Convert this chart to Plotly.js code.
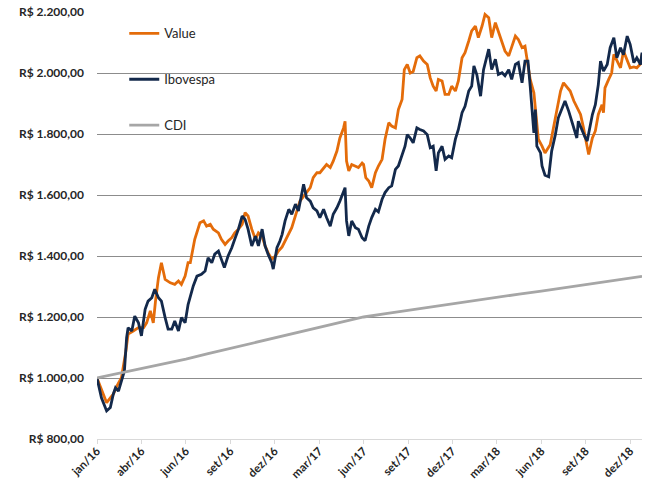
<!DOCTYPE html>
<html>
<head>
<meta charset="utf-8">
<script src="https://cdn.plot.ly/plotly-3.0.1.min.js"></script>
<style>html,body{margin:0;padding:0;background:#fff;}#chart{width:651px;height:482px;}</style>
</head>
<body>
<div id="chart"></div>
<script>
// trading-day index for each sample
const valueDays = [0,6,13,18,22,27,33,39,42,49,56,63,67,72,76,79,83,87,92,99,105,110,114,119,123,126,132,139,144,148,153,157,164,168,173,177,182,186,191,196,200,204,209,214,218,223,227,231,236,241,245,250,254,263,270,274,281,288,292,297,301,306,310,315,319,324,328,333,335,337,340,344,349,353,358,360,363,367,371,376,380,385,389,394,398,403,407,412,415,419,423,427,432,436,441,446,450,454,458,461,466,470,475,479,484,488,493,497,502,506,511,515,520,524,529,533,538,542,547,551,556,560,565,569,574,578,580,585,590,592,594,596,601,605,612,619,626,630,635,639,644,648,653,657,662,664,669,673,677,682,684,686,691,695,698,702,707,711,716,720,725,729,734,736];
const valueSeries = [1000,960,919,935,947,974,1001,1088,1144,1154,1165,1165,1181,1220,1181,1252,1329,1378,1323,1312,1307,1318,1307,1334,1378,1378,1455,1509,1515,1498,1504,1488,1476,1455,1438,1449,1460,1476,1488,1504,1542,1531,1488,1455,1476,1465,1433,1411,1389,1400,1416,1430,1449,1493,1548,1580,1602,1624,1657,1673,1673,1690,1700,1690,1711,1744,1787,1820,1842,1711,1679,1700,1695,1690,1705,1700,1657,1646,1624,1673,1695,1717,1783,1837,1826,1820,1880,1913,2011,2028,2000,2005,2050,2056,2039,2028,1984,1957,1941,1979,1974,1930,1930,1957,1941,1974,2050,2067,2105,2138,2154,2116,2154,2192,2181,2116,2165,2138,2100,2072,2056,2088,2121,2110,2083,2088,2056,1979,1935,1891,1848,1783,1760,1738,1765,1853,1941,1968,1951,1941,1908,1886,1864,1820,1765,1733,1787,1810,1864,1896,1870,1951,1979,2000,2061,2039,2017,2072,2039,2017,2020,2017,2030,2061];

const iboveDays = [0,6,13,18,22,25,29,32,37,40,42,47,51,56,60,65,69,74,78,83,87,92,96,101,105,110,114,119,123,130,135,141,146,150,155,159,164,168,172,177,182,186,191,196,200,204,209,214,218,223,227,231,236,238,243,247,250,254,259,263,268,272,277,279,283,288,292,297,301,306,310,315,319,324,328,331,335,337,340,344,349,353,358,362,367,371,376,380,385,389,394,398,403,407,412,416,419,423,427,432,436,441,446,450,454,458,461,466,470,475,479,484,488,493,497,502,506,509,513,518,522,527,529,533,538,542,547,551,556,560,565,569,574,578,582,585,590,592,594,599,601,605,610,614,619,623,628,632,637,641,646,648,650,655,659,662,669,673,677,680,684,689,693,698,702,707,711,716,720,725,729,734,736];
const iboveSeries = [1000,935,892,903,947,968,957,985,1023,1132,1165,1154,1203,1181,1138,1225,1252,1263,1291,1263,1252,1198,1160,1160,1187,1154,1198,1181,1241,1302,1334,1340,1351,1394,1378,1406,1416,1389,1362,1400,1427,1455,1488,1531,1520,1488,1433,1465,1433,1488,1433,1406,1378,1357,1427,1449,1471,1515,1553,1537,1570,1548,1613,1635,1591,1580,1558,1548,1526,1553,1526,1498,1537,1558,1580,1602,1624,1515,1466,1515,1493,1488,1460,1450,1498,1526,1553,1545,1586,1608,1624,1630,1684,1695,1728,1760,1798,1787,1771,1820,1815,1810,1798,1755,1760,1679,1738,1760,1717,1728,1722,1783,1815,1870,1891,1941,1957,2023,1994,1924,2011,2067,2078,2011,2045,1995,2001,1991,2011,1979,2028,2034,1968,2039,2039,1957,1804,1880,1760,1738,1695,1665,1660,1744,1798,1853,1886,1908,1875,1842,1800,1787,1842,1810,1790,1777,1864,1896,1962,2039,2006,2028,2083,2116,2050,2083,2060,2121,2094,2034,2050,2028,2067];

const cdiDays = [0,30,60,90,120,150,180,210,240,270,300,330,360,390,420,450,480,510,540,570,600,630,660,690,720,736];
const cdiSeries = [1000,1015,1030,1046,1062,1080,1097,1113,1130,1148,1165,1183,1200,1211,1222,1232,1243,1254,1264,1275,1285,1296,1306,1317,1327,1333];

const tickDays = [0,60,120,180,240,300,360,420,480,540,600,660,720];
const tickLabels = ['jan/16','abr/16','jun/16','set/16','dez/16','mar/17','jun/17','set/17','dez/17','mar/18','jun/18','set/18','dez/18'];

const traces = [
  {x: valueDays, y: valueSeries, name: 'Value', type: 'scatter', mode: 'lines',
   line: {color: '#E46C0A', width: 2.8}, legendgroup: 'a'},
  {x: iboveDays, y: iboveSeries, name: 'Ibovespa', type: 'scatter', mode: 'lines',
   line: {color: '#13294B', width: 2.8}, legendgroup: 'b'},
  {x: cdiDays, y: cdiSeries, name: 'CDI', type: 'scatter', mode: 'lines',
   line: {color: '#A6A6A6', width: 2.8}, legendgroup: 'c'}
];

const layout = {
  width: 651, height: 482,
  margin: {l: 97, r: 9, t: 12, b: 43},
  paper_bgcolor: '#ffffff', plot_bgcolor: '#ffffff',
  separators: ',.',
  font: {family: 'Lato, "Open Sans", sans-serif', color: '#262626'},
  showlegend: true,
  legend: {x: 0.05, y: 0.985, xanchor: 'left', yanchor: 'top', bgcolor: 'rgba(0,0,0,0)',
           font: {size: 13, color: '#262626'}, tracegroupgap: 26, itemwidth: 30},
  xaxis: {
    type: 'linear', range: [0, 736], tickmode: 'array', tickvals: tickDays, ticktext: tickLabels,
    tickangle: -45, ticks: 'outside', ticklen: 4, tickcolor: '#d9d9d9',
    showline: true, linecolor: '#d9d9d9', linewidth: 1, showgrid: false, zeroline: false,
    automargin: false, ticklabelstandoff: -4,
    tickfont: {size: 11.5, color: '#262626', weight: 'bold'}
  },
  yaxis: {
    range: [800, 2200], dtick: 200, tick0: 800, tickprefix: 'R$ ', tickformat: ',.2f',
    showgrid: true, gridcolor: '#8c8c8c', gridwidth: 1, zeroline: false, showline: false,
    ticks: '', ticklabelstandoff: 12, automargin: false,
    tickfont: {size: 12, color: '#262626', weight: 'bold'}
  }
};

Plotly.newPlot('chart', traces, layout, {displayModeBar: false, staticPlot: true});
</script>
</body>
</html>
